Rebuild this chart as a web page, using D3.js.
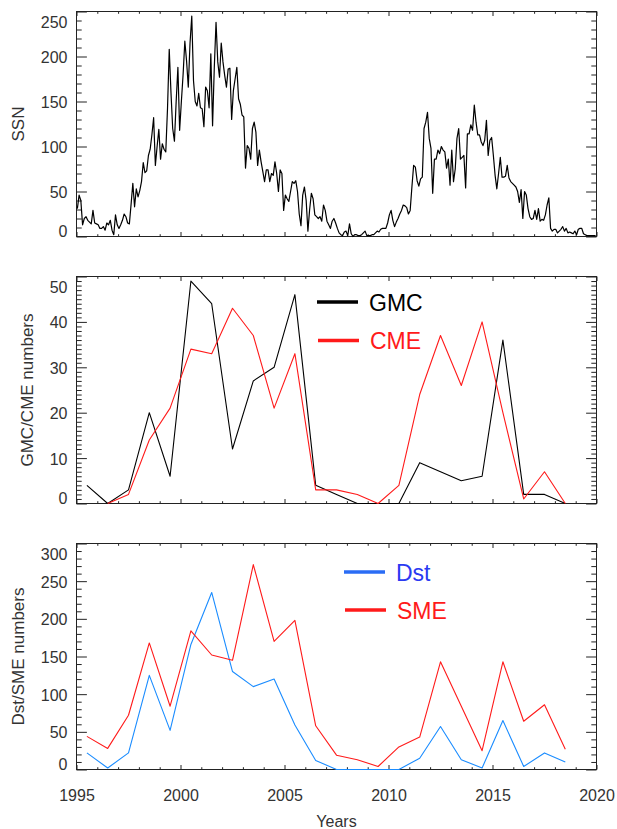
<!DOCTYPE html>
<html>
<head>
<meta charset="utf-8">
<script src="https://cdn.jsdelivr.net/npm/d3@7"></script>
<style>
  html, body { margin: 0; padding: 0; background: #fff; }
  svg { display: block; }
</style>
</head>
<body>
<svg id="chart" width="617" height="829"></svg>
<script>
// ---- Data -------------------------------------------------------------
// Monthly mean sunspot number, January 1995 .. December 2019
const ssnStartYear = 1995;
const ssn = [
  31, 46, 40, 13, 20, 22, 18, 16, 14, 29, 15, 14,      // 1995
  13, 9, 9, 11, 7, 15, 13, 18, 7, 2, 24, 13,            // 1996
  9, 13, 18, 25, 22, 15, 14, 36, 59, 33, 53, 44,        // 1997
  51, 61, 82, 71, 73, 90, 97, 113, 132, 79, 100, 119,   // 1998
  86, 103, 97, 94, 142, 208, 160, 120, 106, 150, 188, 118, // 1999
  150, 180, 217, 195, 166, 215, 245, 173, 150, 145, 159, 143, // 2000
  142, 122, 166, 162, 143, 203, 123, 188, 238, 194, 177, 215, // 2001
  194, 179, 166, 186, 187, 130, 162, 175, 188, 153, 147, 135, // 2002
  133, 76, 101, 98, 86, 120, 127, 116, 79, 96, 83, 72,  // 2003
  61, 74, 74, 61, 70, 68, 83, 70, 50, 74, 70, 29,       // 2004
  46, 42, 39, 50, 61, 59, 62, 50, 25, 12, 46, 55,       // 2005
  40, 6, 30, 48, 42, 24, 22, 20, 22, 17, 35, 29,        // 2006
  17, 13, 9, 17, 20, 15, 9, 4, 2, 1, 5, 6,              // 2007
  1, 14, 3, 0, 2, 2, 1, 1, 2, 4, 6, 1,                  // 2008
  1, 1, 2, 2, 4, 6, 5, 8, 9, 9, 9, 15,                  // 2009
  24, 29, 18, 11, 16, 20, 25, 29, 35, 34, 32, 25,       // 2010
  29, 55, 79, 77, 62, 56, 64, 66, 120, 127, 138, 109,   // 2011
  98, 48, 86, 86, 96, 92, 100, 96, 94, 76, 86, 57,      // 2012
  96, 61, 75, 109, 120, 86, 88, 90, 54, 114, 114, 124,  // 2013
  118, 146, 127, 113, 113, 105, 101, 107, 129, 90, 107, 110, // 2014
  90, 68, 53, 70, 88, 66, 66, 67, 79, 65, 61, 59,       // 2015
  57, 55, 50, 38, 52, 20, 50, 46, 31, 22, 19, 20,       // 2016
  29, 19, 31, 17, 19, 18, 24, 35, 43, 9, 6, 8,          // 2017
  8, 4, 6, 8, 11, 6, 9, 4, 5, 4, 3, 6,                  // 2018
  2, 8, 9, 9, 3, 2, 1, 1, 1, 1, 1, 1                    // 2019
];

// Yearly counts, plotted at the middle of each year
const years = [1995, 1996, 1997, 1998, 1999, 2000, 2001, 2002, 2003, 2004, 2005, 2006,
               2007, 2008, 2009, 2010, 2011, 2012, 2013, 2014, 2015, 2016, 2017, 2018];
const gmc = [4, 0, 3, 20, 6, 49, 44, 12, 27, 30, 46, 4,
             2, 0, 0, 0, 9, 7, 5, 6, 36, 2, 2, 0];
const cme = [null, 0, 2, 14, 21, 34, 33, 43, 37, 21, 33, 3,
             3, 2, 0, 4, 24, 37, 26, 40, 20, 1, 7, 0];
const dst = [22, 2, 22, 125, 52, 166, 235, 130, 110, 120, 59, 12,
             0, 0, 0, 0, 15, 57, 13, 2, 65, 4, 22, 10];
const sme = [44, 28, 72, 168, 84, 184, 152, 145, 272, 170, 198, 58,
             19, 13, 4, 30, 43, 143, 84, 25, 143, 64, 86, 27];

// Axis ticks
const xTicks = [1995, 2000, 2005, 2010, 2015, 2020];
const ssnTicks = [0, 50, 100, 150, 200, 250];
const gmcTicks = [0, 10, 20, 30, 40, 50];
const dstTicks = [0, 50, 100, 150, 200, 250, 300];

// ---- Layout -----------------------------------------------------------
const FONT = "'Liberation Sans', Arial, Helvetica, sans-serif";
const AXIS_COLOR = "#222";
const LABEL_COLOR = "#333";
const svg = d3.select("#chart");
svg.append("rect").attr("width", 617).attr("height", 829).attr("fill", "#fff");

const x = d3.scaleLinear().domain([1995, 2020]).range([76.5, 596.5]);
const xMinor = d3.range(1995, 2021, 1).filter(v => !xTicks.includes(v));

const panels = [
  { top: 11.5, bottom: 236.5, max: 250, ticks: ssnTicks, minor: 10,
    title: "SSN", titleX: 24, xLabels: false },
  { top: 276.5, bottom: 503.5, max: 50, ticks: gmcTicks, minor: 1,
    title: "GMC/CME numbers", titleX: 33, xLabels: false },
  { top: 543.5, bottom: 769.5, max: 300, ticks: dstTicks, minor: 10,
    title: "Dst/SME numbers", titleX: 23.5, xLabels: true }
];

function styleAxis(g) {
  g.select(".domain").remove();
  g.attr("font-family", FONT).attr("font-size", 16);
  g.selectAll("line").attr("stroke", AXIS_COLOR).attr("stroke-width", 1);
  g.selectAll("text").attr("fill", LABEL_COLOR);
}

function drawFrame(p) {
  const y = d3.scaleLinear().domain([0, p.max]).range([p.bottom, p.top]);
  p.y = y;
  const g = svg.append("g");
  const yMinor = d3.range(0, p.max + 1e-9, p.minor).filter(v => !p.ticks.includes(v));

  // y ticks, left and right, pointing inward
  g.append("g").attr("transform", `translate(${x.range()[0]},0)`)
    .call(d3.axisLeft(y).tickValues(yMinor).tickSize(-5.2).tickFormat("")).call(styleAxis);
  g.append("g").attr("transform", `translate(${x.range()[1]},0)`)
    .call(d3.axisRight(y).tickValues(yMinor).tickSize(-5.2).tickFormat("")).call(styleAxis);
  g.append("g").attr("transform", `translate(${x.range()[1]},0)`)
    .call(d3.axisRight(y).tickValues(p.ticks).tickSize(-10.4).tickFormat("")).call(styleAxis);
  const left = g.append("g").attr("transform", `translate(${x.range()[0]},0)`)
    .call(d3.axisLeft(y).tickValues(p.ticks).tickSize(-10.4).tickPadding(9).tickFormat(d3.format("d")))
    .call(styleAxis);
  left.selectAll("text").attr("dy", "0.38em");
  // keep end labels inside the axis range
  left.selectAll(".tick").filter(d => d === p.max).select("text").attr("dy", null).attr("y", 15.5);
  left.selectAll(".tick").filter(d => d === 0).select("text").attr("dy", null).attr("y", 0);

  // x ticks, top and bottom
  g.append("g").attr("transform", `translate(0,${p.top})`)
    .call(d3.axisTop(x).tickValues(xMinor).tickSize(-2.3).tickFormat("")).call(styleAxis);
  g.append("g").attr("transform", `translate(0,${p.top})`)
    .call(d3.axisTop(x).tickValues(xTicks).tickSize(-4.5).tickFormat("")).call(styleAxis);
  g.append("g").attr("transform", `translate(0,${p.bottom})`)
    .call(d3.axisBottom(x).tickValues(xMinor).tickSize(-2.3).tickFormat("")).call(styleAxis);
  g.append("g").attr("transform", `translate(0,${p.bottom})`)
    .call(d3.axisBottom(x).tickValues(xTicks).tickSize(-4.5).tickPadding(20.5)
      .tickFormat(p.xLabels ? d3.format("d") : ""))
    .call(styleAxis);

  // frame
  g.append("rect")
    .attr("x", x.range()[0]).attr("y", p.top)
    .attr("width", x.range()[1] - x.range()[0]).attr("height", p.bottom - p.top)
    .attr("fill", "none").attr("stroke", AXIS_COLOR).attr("stroke-width", 1);

  // y title
  svg.append("text")
    .attr("transform", `translate(${p.titleX},${(p.top + p.bottom) / 2}) rotate(-90)`)
    .attr("text-anchor", "middle")
    .attr("font-family", FONT).attr("font-size", 17).attr("fill", LABEL_COLOR)
    .text(p.title);
}

panels.forEach(drawFrame);

// x title
svg.append("text")
  .attr("x", (x.range()[0] + x.range()[1]) / 2).attr("y", 827)
  .attr("text-anchor", "middle")
  .attr("font-family", FONT).attr("font-size", 16).attr("fill", LABEL_COLOR)
  .text("Years");

// ---- Series -----------------------------------------------------------
function drawSeries(p, pts, color, width) {
  const line = d3.line()
    .defined(d => d.v != null)
    .x(d => x(d.t))
    .y(d => p.y(d.v));
  svg.append("path")
    .datum(pts)
    .attr("d", line)
    .attr("fill", "none")
    .attr("stroke", color)
    .attr("stroke-width", width)
    .attr("stroke-linejoin", "round");
}

const ssnPts = ssn.map((v, i) => ({ t: ssnStartYear + (i + 0.5) / 12, v }));
const yearly = arr => arr.map((v, i) => ({ t: years[i] + 0.5, v }));

drawSeries(panels[0], ssnPts, "#000", 1.2);
drawSeries(panels[1], yearly(gmc), "#000", 1.1);
drawSeries(panels[1], yearly(cme), "#ff1a1a", 1.1);
drawSeries(panels[2], yearly(dst), "#1a8cff", 1.1);
drawSeries(panels[2], yearly(sme), "#ff1a1a", 1.1);

// ---- Legends ----------------------------------------------------------
const legends = [
  { x: 317, y: 302, label: "GMC", line: "#000", text: "#000" },
  { x: 318, y: 340.5, label: "CME", line: "#ff1a1a", text: "#ff1a1a" },
  { x: 344, y: 572, label: "Dst", line: "#2a6cf5", text: "#2a3af2" },
  { x: 345, y: 610, label: "SME", line: "#ff1a1a", text: "#ff1a1a" }
];
legends.forEach(l => {
  svg.append("line")
    .attr("x1", l.x).attr("x2", l.x + 41)
    .attr("y1", l.y).attr("y2", l.y)
    .attr("stroke", l.line).attr("stroke-width", 3.5);
  svg.append("text")
    .attr("x", l.x + 52).attr("y", l.y + 8.5)
    .attr("font-family", FONT).attr("font-size", 23).attr("fill", l.text)
    .text(l.label);
});
</script>
</body>
</html>
